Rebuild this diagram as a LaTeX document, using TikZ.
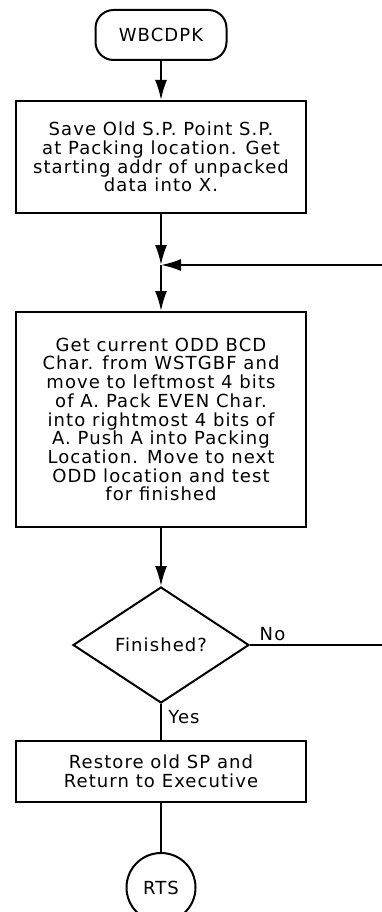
\documentclass[tikz,border=0pt]{standalone}
\usepackage{fontspec}
\setmainfont[LetterSpace=6]{DejaVu Sans}
\usetikzlibrary{positioning,arrows.meta,shapes.geometric}

\begin{document}
\begin{tikzpicture}[x=1pt, y=-1pt,
				every node/.style={font=\fontsize{18}{18.7}\selectfont},
				term/.style={draw, line width=2pt, rounded corners=18pt, minimum width=131pt, minimum height=50pt},
				proc/.style={draw, line width=2pt, minimum width=290pt, align=center, inner sep=0pt},
				decision/.style={draw, diamond, line width=2pt, minimum width=176pt, minimum height=116pt, inner sep=0pt},
				stopc/.style={draw, circle, line width=2pt, minimum size=69pt, inner sep=0pt},
				arrow/.style={-{Latex[length=20pt,width=12pt]}, line width=2pt},
				link/.style={line width=2pt}
			]
			\useasboundingbox (0,0) rectangle (381,912);
			% Nodes
			\node[term] (start) at (161,35) {WBCDPK};
			\node[proc, minimum height=112pt, below=39pt of start] (save) {Save Old S.P. Point S.P.\\at Packing location. Get\\starting addr of unpacked\\data into X.};
			\coordinate[below=51pt of save] (join);
			\node[proc, minimum height=215pt, below=46pt of join] (pack) {Get current ODD BCD\\Char. from WSTGBF and\\move to leftmost 4 bits\\of A. Pack EVEN Char.\\into rightmost 4 bits of\\A. Push A into Packing\\Location. Move to next\\ODD location and test\\for finished};
			\node[decision, below=58pt of pack] (done) {Finished?};
			\node[proc, minimum height=61pt, below=36pt of done] (restore) {Restore old SP and\\Return to Executive};
			\node[stopc, below=49pt of restore] (rts) {RTS};

			% Arrows
			\draw[arrow] (start) -- (save);
			\draw[arrow] (save) -- (join);
			\draw[arrow] (join) -- (pack);
			\draw[arrow] (pack) -- (done);
			\draw[link] (done) -- node[right=3pt, pos=0.35] {Yes} (restore);
			\draw[link] (restore) -- (rts);
			\draw[arrow] (done.east) -- node[above, pos=0.15] {No} ++(150,0) |- (join);
		\end{tikzpicture}
\end{document}
